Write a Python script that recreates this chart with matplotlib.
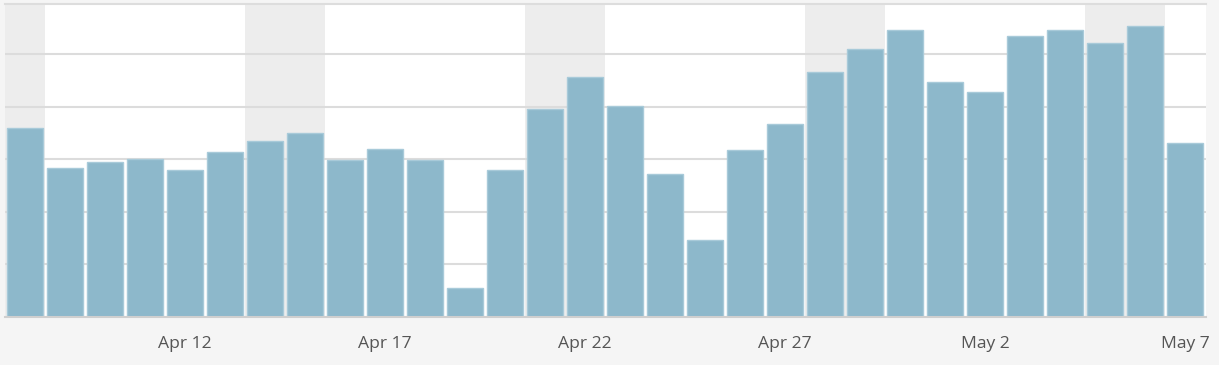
import numpy as np
import pandas as pd
import matplotlib
matplotlib.use('Agg')
import matplotlib.pyplot as plt

# Daily values, Apr 8 - May 7 (grid step = 10)
dates = pd.date_range('2018-04-08', '2018-05-07', freq='D')
values = [35.9, 28.3, 29.4, 30.0, 28.0, 31.4, 33.4, 35.0, 29.8, 31.9,
          29.8, 5.5, 27.9, 39.5, 45.7, 40.2, 27.2, 14.6, 31.7, 36.7,
          46.6, 51.0, 54.6, 44.7, 42.7, 53.4, 54.6, 52.1, 55.3, 33.1]
tick_idx = [4, 9, 14, 19, 24, 29]

BAR = '#8db8cb'
EDGE = '#a8cad9'
SHADE = '#ededed'
GRID = '#dcdcdc'

fig = plt.figure(figsize=(12.19, 3.65), dpi=100, facecolor='#f5f5f5')
W, H = 1219, 365
left, right, top, bottom = 5, 1206, 3.5, 317
ax = fig.add_axes([left / W, (H - bottom) / H, (right - left) / W, (bottom - top) / H])
ax.set_facecolor('white')

x = np.arange(len(values))

# weekend shading
for i, d in enumerate(dates):
    if d.weekday() >= 5:
        ax.axvspan(i - 0.5, i + 0.5, color=SHADE, lw=0, zorder=0)

for yv in [10, 20, 30, 40, 50]:
    ax.axhline(yv, color=GRID, lw=1.5, zorder=1)

ax.bar(x, values, width=0.92, color=BAR, edgecolor=EDGE, linewidth=1, zorder=2)

ax.set_xlim(-0.5, 29.525)
ax.set_ylim(0, 59.6)
ax.set_yticks([])
ax.set_xticks(tick_idx)
ax.set_xticklabels([f"{dates[i].strftime('%b')} {dates[i].day}" for i in tick_idx],
                   fontsize=12.6, color='#555555', family='Open Sans')
ax.tick_params(axis='x', length=0, pad=14)

for s in ['left', 'right']:
    ax.spines[s].set_visible(False)
ax.spines['bottom'].set_color('#cfcfcf')
ax.spines['bottom'].set_linewidth(1.5)
ax.spines['top'].set_color('#dddddd')
ax.spines['top'].set_linewidth(1.5)

fig.savefig('out.png', dpi=100, facecolor=fig.get_facecolor())
